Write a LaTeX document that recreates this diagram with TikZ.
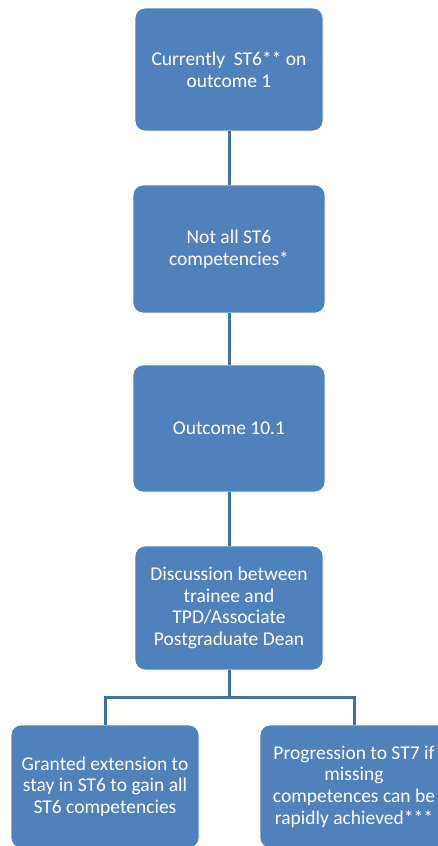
\documentclass[tikz,border=0pt]{standalone}
\usepackage{fontspec}
\setmainfont{Carlito}
\definecolor{boxblue}{HTML}{4F81BD}
\definecolor{linkblue}{HTML}{41719C}
\begin{document}
\begin{tikzpicture}[x=1pt,y=-1pt,
  box/.style={draw=white,line width=0.8pt,fill=boxblue,rounded corners=10pt,
    text=white,align=center,font=\fontsize{19.5}{21.7}\selectfont,inner sep=0pt},
  link/.style={draw=linkblue,line width=3pt}]
\useasboundingbox (0,0) rectangle (438,846);
\clip (0,0) rectangle (438,846);
\node[box,minimum width=188pt,minimum height=123pt] (b1) at (229,69.5) {Currently \ ST6** on\\outcome 1};
\node[box,minimum width=192pt,minimum height=128pt] (b2) at (229,249) {Not all ST6\\competencies*};
\node[box,minimum width=192pt,minimum height=127pt] (b3) at (229,428.5) {Outcome 10.1};
\node[box,minimum width=188pt,minimum height=124pt] (b4) at (229,608) {Discussion between\\trainee and\\TPD/Associate\\Postgraduate Dean};
\node[box,minimum width=188pt,minimum height=123pt] (b5) at (105,786.5) {Granted extension to\\stay in ST6 to gain all\\ST6 competencies};
\node[box,minimum width=188pt,minimum height=123pt] (b6) at (354,786.5) {Progression to ST7 if\\missing\\competences can be\\rapidly achieved***};
\coordinate (j) at (229,697);
\draw[link] (b1.south) -- (b2.north);
\draw[link] (b2.south) -- (b3.north);
\draw[link] (b3.south) -- (b4.north);
\draw[link] (b4.south) -- (j);
\draw[link] (b5.north) |- (j) -| (b6.north);
\end{tikzpicture}
\end{document}
